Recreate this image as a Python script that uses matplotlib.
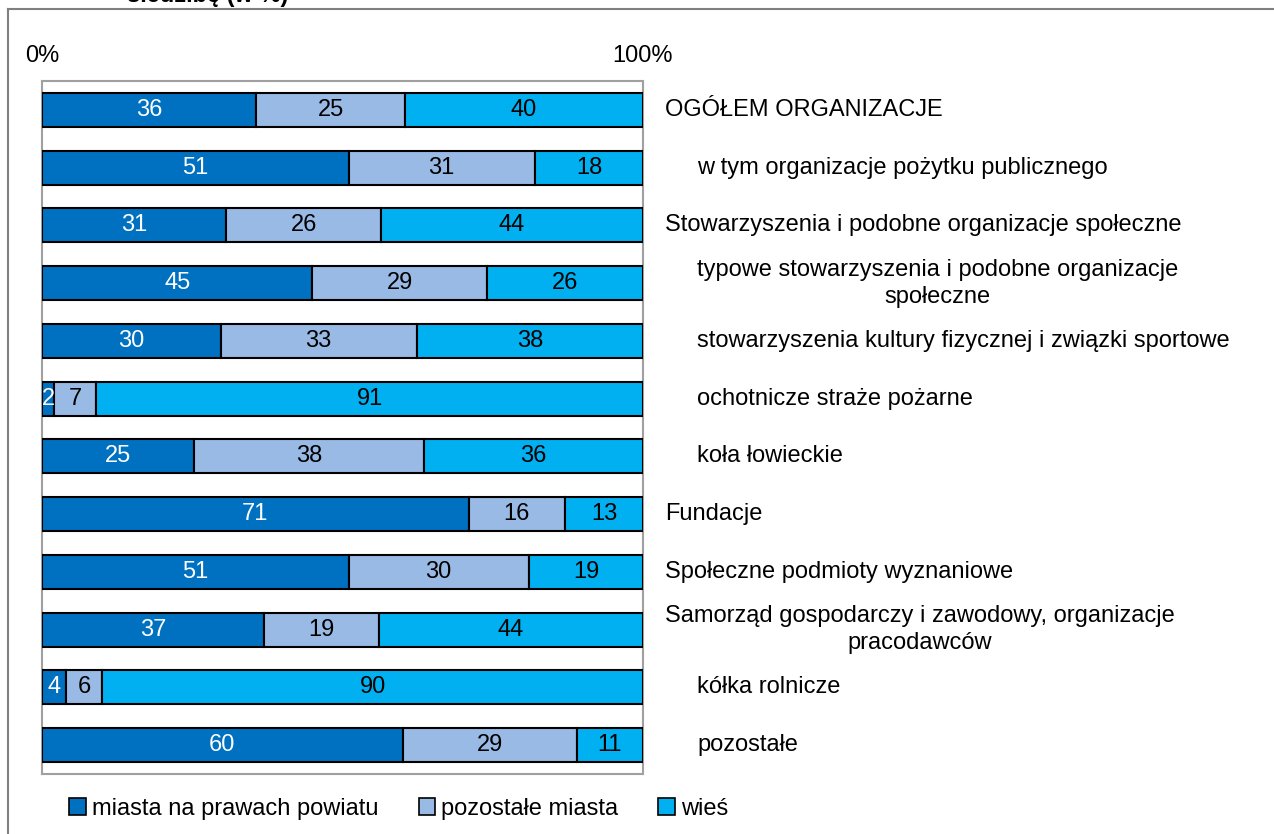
import numpy as np
import matplotlib
matplotlib.use('Agg')
import matplotlib.pyplot as plt
from matplotlib.lines import Line2D
from matplotlib.patches import Patch

categories = [
	"OGÓŁEM ORGANIZACJE",
	"w tym organizacje pożytku publicznego",
	"Stowarzyszenia i podobne organizacje społeczne",
	"typowe stowarzyszenia i podobne organizacje\nspołeczne",
	"stowarzyszenia kultury fizycznej i związki sportowe",
	"ochotnicze straże pożarne",
	"koła łowieckie",
	"Fundacje",
	"Społeczne podmioty wyznaniowe",
	"Samorząd gospodarczy i zawodowy, organizacje\npracodawców",
	"kółka rolnicze",
	"pozostałe",
]
# 0 = main group, 1 = sub-group (indented label)
level = [0, 1, 0, 1, 1, 1, 1, 0, 0, 0, 1, 1]

series_names = ["miasta na prawach powiatu", "pozostałe miasta", "wieś"]
miasta_powiat = [36, 51, 31, 45, 30, 2, 25, 71, 51, 37, 4, 60]
pozostale_miasta = [25, 31, 26, 29, 33, 7, 38, 16, 30, 19, 6, 29]
wies = [40, 18, 44, 26, 38, 91, 36, 13, 19, 44, 90, 11]

colors = ["#0070C0", "#99BAE4", "#00B0F0"]
text_colors = ["white", "black", "black"]

W, H = 1274, 834
plt.rcParams['font.family'] = ['Liberation Sans', 'DejaVu Sans']
FS = 17

fig = plt.figure(figsize=(W / 100, H / 100), dpi=100)
ax_l, ax_r = 42 / W, 643 / W
ax = fig.add_axes([ax_l, (H - 774) / H, ax_r - ax_l, (774 - 81) / H])

data = np.array([miasta_powiat, pozostale_miasta, wies], dtype=float)
share = data / data.sum(axis=0) * 100
y = np.arange(len(categories))
left = np.zeros(len(categories))
for i in range(3):
	ax.barh(y, share[i], left=left, height=0.59, color=colors[i],
		edgecolor="black", linewidth=1.5, zorder=3)
	for j in range(len(categories)):
		ax.text(left[j] + share[i][j] / 2, y[j], "%d" % data[i][j],
			ha="center", va="center", fontsize=FS, color=text_colors[i], zorder=4)
	left += share[i]

ax.set_xlim(0, 100)
ax.set_ylim(len(categories) - 0.5, -0.5)
ax.set_yticks([])
ax.xaxis.tick_top()
ax.set_xticks([0, 100])
ax.set_xticklabels(["0%", "100%"], fontsize=FS)
ax.tick_params(axis="x", length=0, pad=10)
for s in ax.spines.values():
	s.set_color("#A0A0A0")
	s.set_linewidth(1.5)

# category labels on the right
for j, lab in enumerate(categories):
	xpix = 665 + 32 * level[j]
	xa = 1 + (xpix / W - ax_r) / (ax_r - ax_l)
	ax.text(xa, y[j], lab, transform=ax.get_yaxis_transform(), ha="left", va="center",
		multialignment="center", fontsize=FS, linespacing=1.3)

# legend
handles = [Patch(facecolor=c, edgecolor="black", linewidth=1.2) for c in colors]
fig.legend(handles, series_names, loc="center left", bbox_to_anchor=(60 / W, (H - 809) / H),
	ncol=3, frameon=False, fontsize=FS, handlelength=0.7, handleheight=0.7,
	handletextpad=0.25, columnspacing=1.7, borderaxespad=0)

# outer frame (partially visible) and cut-off title
fig.add_artist(Line2D([8 / W, 1], [(H - 9) / H, (H - 9) / H], color="#808080", linewidth=1.5))
fig.add_artist(Line2D([8 / W, 8 / W], [0, (H - 9) / H], color="#808080", linewidth=1.5))
fig.text(127 / W, (H - 2) / H, "siedzibę (w %)", fontsize=FS, fontweight="bold", va="baseline")

fig.savefig("out.png", dpi=100)
